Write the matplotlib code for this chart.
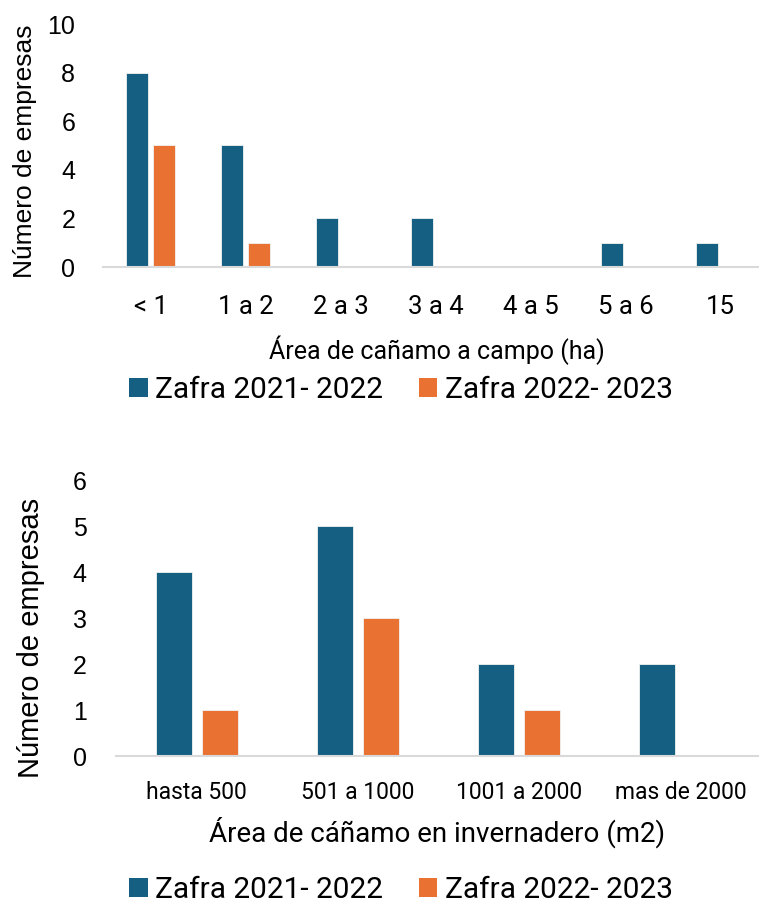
import matplotlib
matplotlib.use("Agg")
import matplotlib.pyplot as plt
import numpy as np
from matplotlib.patches import Patch

# Data
campo_cats = ["< 1", "1 a 2", "2 a 3", "3 a 4", "4 a 5", "5 a 6", "15"]
campo_2122 = [8, 5, 2, 2, 0, 1, 1]
campo_2223 = [5, 1, 0, 0, 0, 0, 0]

inv_cats = ["hasta 500", "501 a 1000", "1001 a 2000", "mas de 2000"]
inv_2122 = [4, 5, 2, 2]
inv_2223 = [1, 3, 1, 0]

series_labels = ["Zafra 2021- 2022", "Zafra 2022- 2023"]

BLUE = "#156082"
ORANGE = "#E97132"
AXIS_GRAY = "#D9D9D9"
ARIAL = "Liberation Sans"
APTOS = "Roboto"

W, H = 759, 905
fig = plt.figure(figsize=(W / 100, H / 100), dpi=100)


def px_axes(left, right, top, bottom):
    return fig.add_axes([left / W, 1 - bottom / H, (right - left) / W, (bottom - top) / H])


def draw_bars(ax, cats, a, b, width, off, ymax, ystep):
    x = np.arange(len(cats))
    ax.bar(x - off, a, width, color=BLUE, edgecolor="#f2f2f2", linewidth=0.6)
    ax.bar(x + off, b, width, color=ORANGE, edgecolor="#f2f2f2", linewidth=0.6)
    ax.set_xlim(-0.5, len(cats) - 0.5)
    ax.set_xticks(x, cats)
    ax.set_ylim(0, ymax)
    ax.set_yticks(range(0, ymax + 1, ystep))
    for s in ["top", "right", "left"]:
        ax.spines[s].set_visible(False)
    ax.spines["bottom"].set_color(AXIS_GRAY)
    ax.spines["bottom"].set_linewidth(1.5)
    ax.tick_params(length=0)
    ax.tick_params(axis="y", labelsize=18, labelfontfamily=ARIAL)


def add_legend(ax, y):
    handles = [Patch(facecolor=BLUE), Patch(facecolor=ORANGE)]
    ax.legend(handles, series_labels, loc="center", bbox_to_anchor=(401 / W, y),
              bbox_transform=fig.transFigure, ncol=2, frameon=False,
              prop={"family": APTOS, "size": 21.5}, handlelength=0.62,
              handleheight=0.62, handletextpad=0.25, columnspacing=1.2)


# Top chart: field area
ax1 = px_axes(103, 768, 24, 267)
draw_bars(ax1, campo_cats, campo_2122, campo_2223, 0.235, 0.14, 10, 2)
ax1.tick_params(axis="x", labelsize=18.5, labelfontfamily=APTOS, pad=20)
ax1.tick_params(axis="y", pad=20)
ax1.set_xlabel("Área de cañamo a campo (ha)", fontfamily=APTOS, fontsize=18)
ax1.xaxis.label.set_va("center")
ax1.xaxis.set_label_coords((437 - 103) / 665, -(350 - 267) / 243)
ax1.set_ylabel("Número de empresas", fontfamily=ARIAL, fontsize=19)
ax1.yaxis.label.set_va("center")
ax1.yaxis.set_label_coords(-(103 - 25) / 665, (267 - 151) / 243)
add_legend(ax1, 1 - 390 / H)

# Bottom chart: greenhouse area
ax2 = px_axes(116, 761, 480, 756)
draw_bars(ax2, inv_cats, inv_2122, inv_2223, 0.224, 0.143, 6, 1)
ax2.tick_params(axis="x", labelsize=16.5, labelfontfamily=APTOS, pad=18)
ax2.tick_params(axis="y", pad=21)
ax2.set_xlabel("Área de cáñamo en invernadero (m2)", fontfamily=APTOS, fontsize=20)
ax2.xaxis.label.set_va("center")
ax2.xaxis.set_label_coords((437 - 116) / 645, -(832 - 756) / 276)
ax2.set_ylabel("Número de empresas", fontfamily=ARIAL, fontsize=21)
ax2.yaxis.label.set_va("center")
ax2.yaxis.set_label_coords(-(116 - 31) / 645, (756 - 638) / 276)
add_legend(ax2, 1 - 890 / H)

fig.savefig("out.png", dpi=100)
